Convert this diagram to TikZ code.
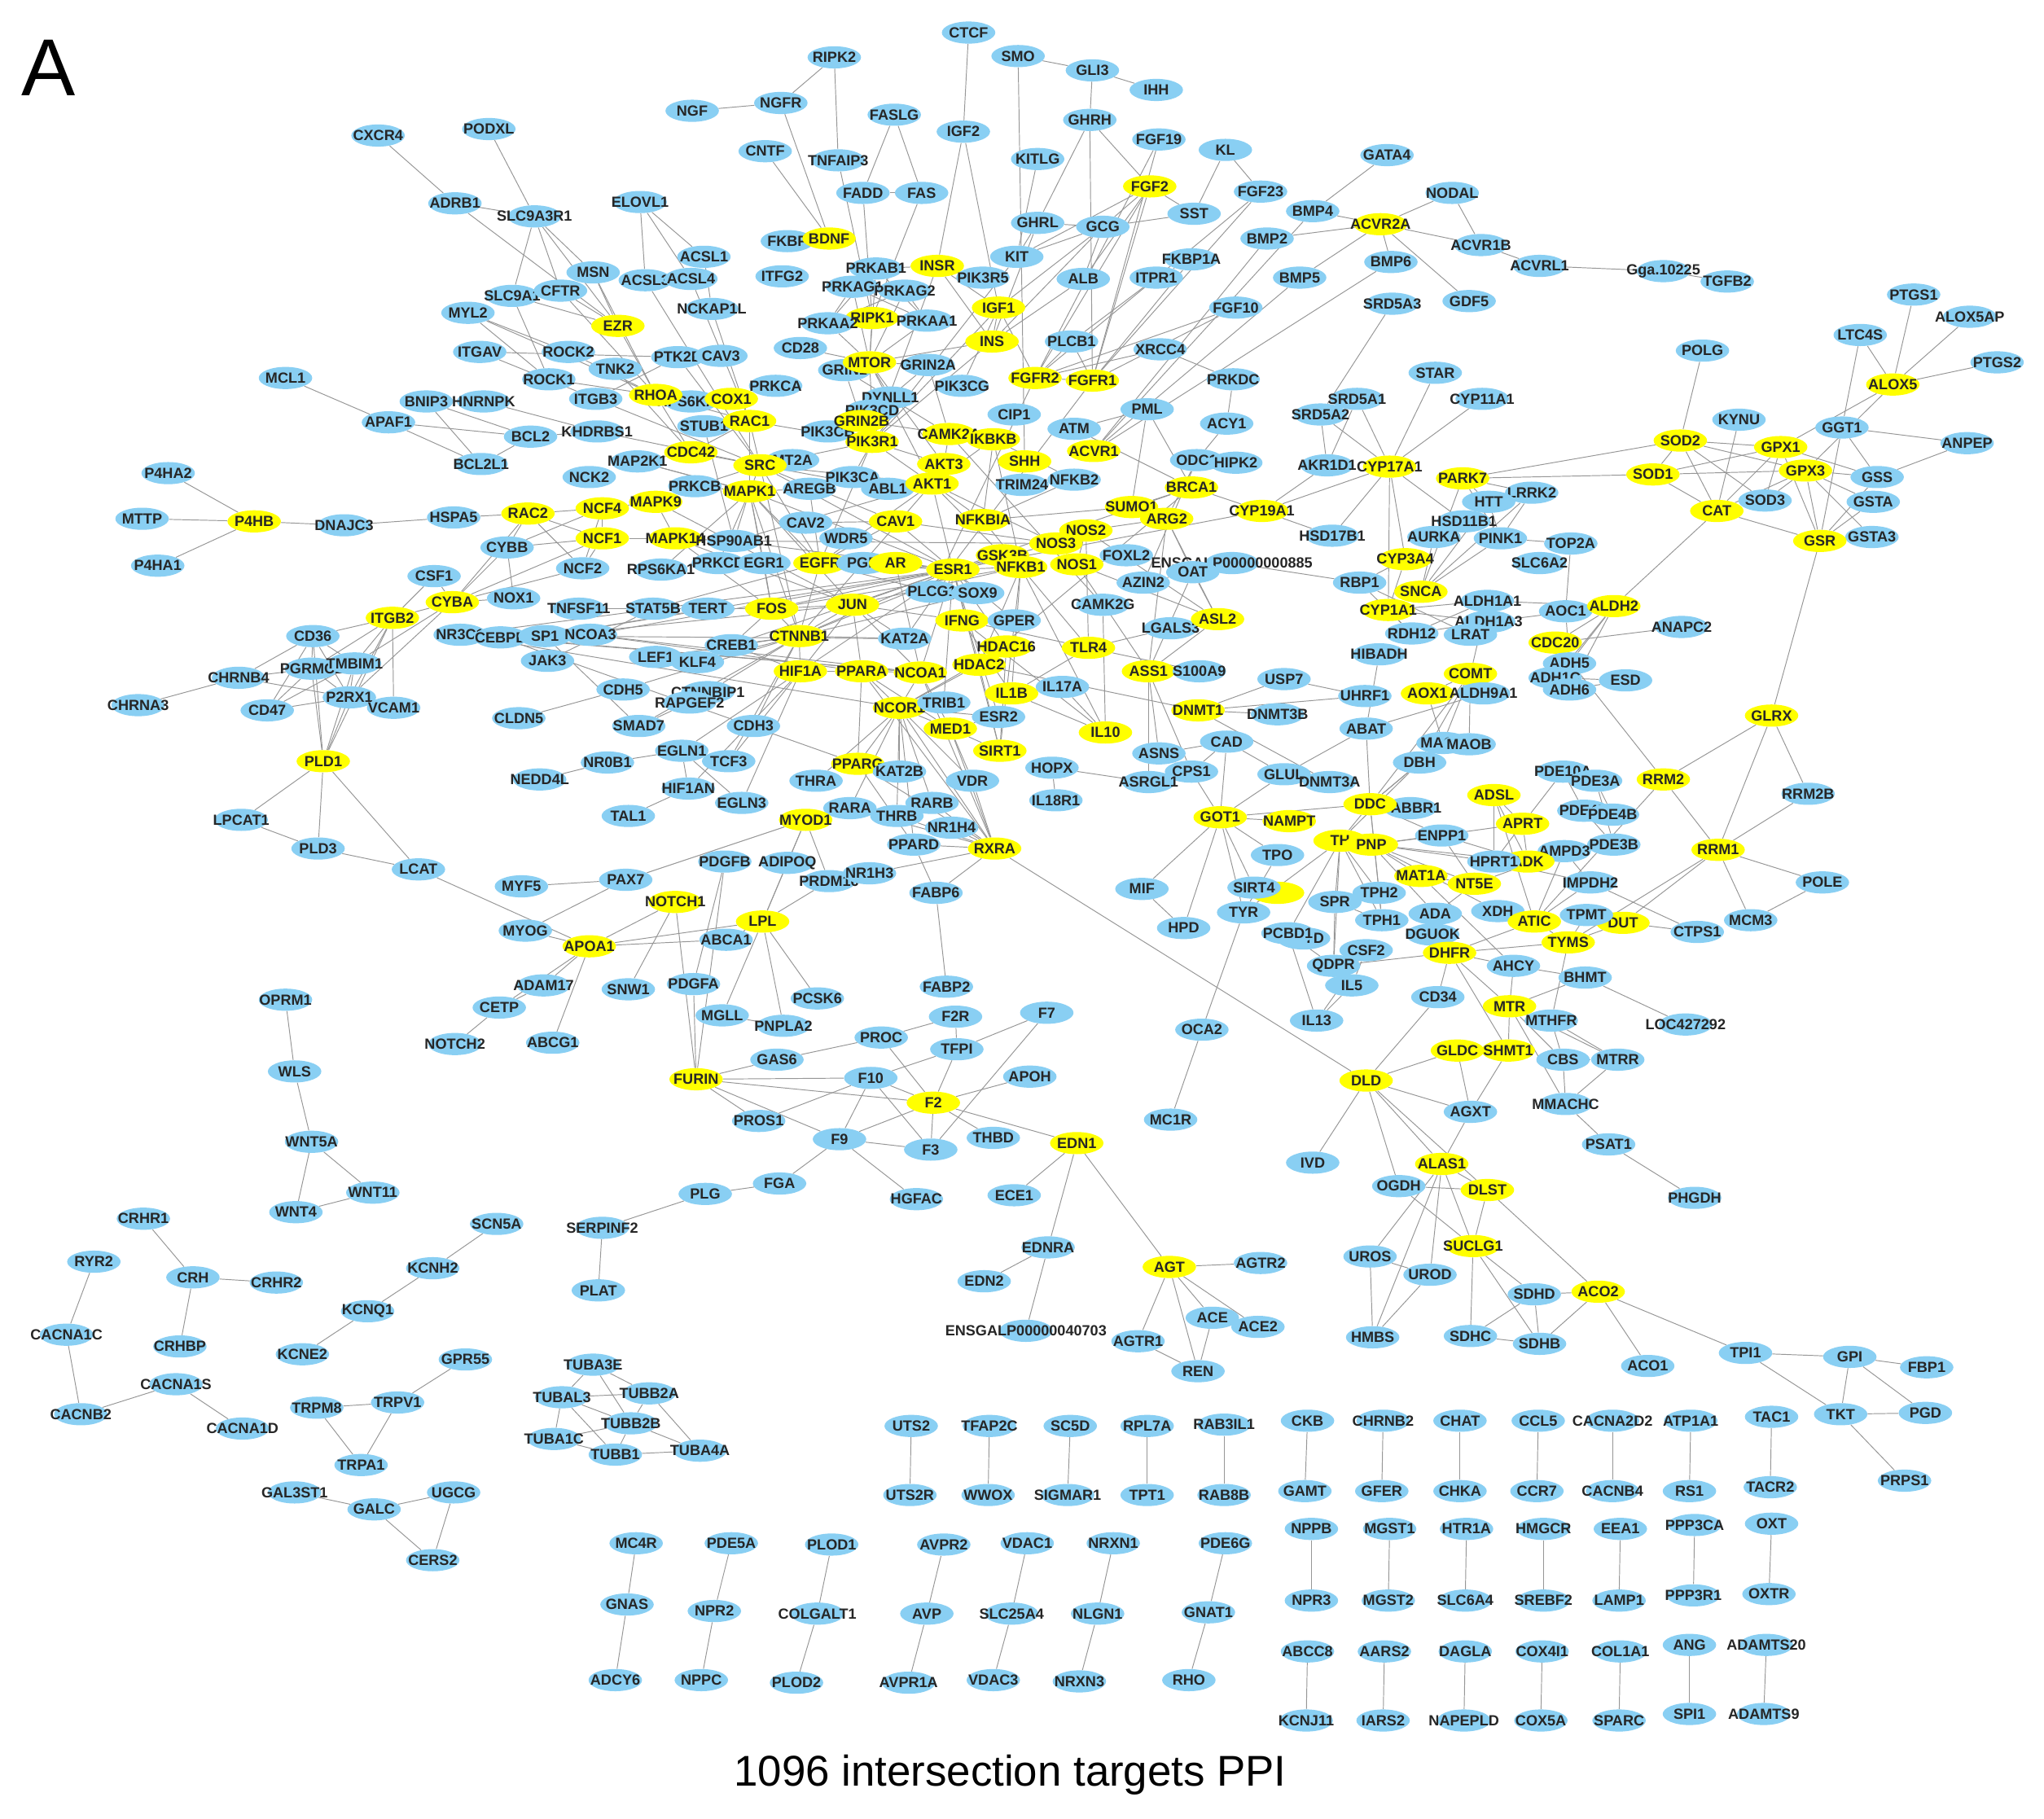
\documentclass[tikz,border=0pt]{standalone}
\usepackage{fontspec}
\setmainfont{Liberation Sans}
\usetikzlibrary{shapes.geometric}
\definecolor{nblue}{RGB}{137,207,243}
\definecolor{nyel}{RGB}{255,255,0}
\definecolor{egray}{RGB}{150,150,150}
\pgfdeclarelayer{bg}
\pgfdeclarelayer{edges}
\pgfsetlayers{bg,edges,main}
\tikzset{
  bn/.style={ellipse, fill=nblue, minimum width=41pt, minimum height=17pt, inner sep=0pt,
             font=\fontsize{11.3}{12}\selectfont\bfseries, text=black!85},
  yn/.style={bn, fill=nyel},
  edge/.style={draw=egray, line width=0.6pt}
}
\newcommand{\B}[3]{\node[bn] (#1) at (#2,-#3) {\makebox[0pt]{#1}};}
\newcommand{\Y}[3]{\node[yn] (#1) at (#2,-#3) {\makebox[0pt]{#1}};}
\newcommand{\BL}[4]{\node[bn] (#1) at (#2,-#3) {\makebox[0pt]{#4}};}
\newcommand{\YL}[4]{\node[yn] (#1) at (#2,-#3) {\makebox[0pt]{#4}};}
\newcommand{\E}[2]{\foreach \x in {#2}{\draw[edge] (#1) -- (\x);}}
\begin{document}
\begin{tikzpicture}[x=1pt,y=1pt]
\useasboundingbox (0,0) rectangle (1568,-1395);
\begin{pgfonlayer}{bg}
\fill[white] (0,0) rectangle (1568,-1395);
\end{pgfonlayer}
\node[font=\fontsize{62}{64}\selectfont] (lblA) at (37,-52) {A};
\node[font=\fontsize{33}{35}\selectfont] (title) at (775,-1362) {1096 intersection targets PPI};
% ---------------- nodes ----------------
\B{CTCF}{743}{25}
\B{RIPK2}{640}{44}
\B{SMO}{781}{43}
\B{GLI3}{838}{54}
\B{IHH}{887}{69}
\B{NGF}{531}{85}
\B{NGFR}{599}{79}
\B{FASLG}{686}{88}
\B{IGF2}{739}{101}
\B{GHRH}{836}{92}
\B{FGF19}{889}{107}
\B{KL}{940}{115}
\B{CXCR4}{290}{104}
\B{PODXL}{375}{99}
\B{CNTF}{587}{116}
\B{TNFAIP3}{643}{123}
\B{KITLG}{796}{122}
\Y{FGF2}{882}{143}
\B{SST}{916}{164}
\B{FGF23}{967}{147}
\B{GATA4}{1064}{119}
\B{NODAL}{1114}{148}
\B{BMP4}{1007}{162}
\Y{ACVR2A}{1059}{172}
\B{ACVR1B}{1136}{188}
\B{ACVRL1}{1181}{204}
\BL{Gga}{1276}{208}{Gga.10225}
\B{TGFB2}{1325}{216}
\B{ADRB1}{349}{156}
\B{SLC9A3R1}{410}{166}
\B{ELOVL1}{491}{155}
\B{FADD}{662}{148}
\B{FAS}{707}{148}
\B{GHRL}{796}{171}
\B{GCG}{846}{174}
\B{BMP2}{972}{183}
\B{FKBP}{604}{185}
\Y{BDNF}{636}{183}
\B{ACSL1}{540}{197}
\B{KIT}{780}{197}
\B{BMP6}{1067}{201}
\B{PRKAB1}{672}{206}
\Y{INSR}{719}{204}
\B{PIK3R5}{754}{213}
\B{ITFG2}{600}{212}
\B{MSN}{455}{209}
\B{FKBP1A}{914}{199}
\B{ITPR1}{887}{213}
\B{BMP5}{997}{213}
\B{ALB}{831}{214}
\B{SLC9A1}{393}{227}
\B{CFTR}{430}{223}
\B{ACSL3}{495}{215}
\B{ACSL4}{530}{214}
\B{PRKAG1}{654}{220}
\B{PRKAG2}{694}{223}
\B{NCKAP1L}{546}{237}
\B{GDF5}{1127}{231}
\B{SRD5A3}{1068}{233}
\B{FGF10}{948}{236}
\Y{IGF1}{766}{236}
\B{MYL2}{359}{240}
\Y{EZR}{474}{250}
\Y{RIPK1}{669}{244}
\B{PRKAA2}{635}{248}
\B{PRKAA1}{711}{246}
\Y{INS}{761}{262}
\B{ITGAV}{368}{270}
\B{ROCK2}{436}{270}
\B{CD28}{614}{267}
\B{PTK2B}{520}{274}
\B{CAV3}{553}{273}
\B{TNK2}{472}{283}
\B{GRIN1}{648}{284}
\Y{MTOR}{667}{278}
\B{GRIN2A}{712}{280}
\B{PLCB1}{822}{262}
\B{XRCC4}{890}{268}
\B{MCL1}{219}{290}
\B{ROCK1}{421}{291}
\Y{FGFR2}{794}{290}
\Y{FGFR1}{838}{292}
\B{PRKDC}{946}{291}
\B{ITGB3}{457}{306}
\B{RPS6KA3}{530}{308}
\Y{RHOA}{503}{303}
\Y{COX1}{561}{306}
\B{PRKCA}{595}{296}
\B{PIK3CG}{738}{296}
\B{DYNLL1}{683}{305}
\B{CIP1}{778}{318}
\B{BNIP3}{327}{308}
\B{HNRNPK}{371}{308}
\B{APAF1}{298}{324}
\B{KHDRBS1}{458}{331}
\B{BCL2}{407}{335}
\B{STUB1}{540}{327}
\Y{RAC1}{575}{323}
\B{PIK3CD}{669}{315}
\B{PIK3CB}{635}{331}
\Y{GRIN2B}{661}{323}
\Y{PIK3R1}{669}{339}
\Y{CAMK2A}{728}{333}
\Y{IKBKB}{762}{337}
\B{ATM}{824}{329}
\B{PML}{880}{314}
\B{ACY1}{941}{325}
\B{SRD5A2}{1013}{318}
\B{SRD5A1}{1041}{306}
\B{STAR}{1101}{286}
\B{CYP11A1}{1137}{306}
\B{POLG}{1306}{269}
\B{PTGS1}{1468}{226}
\B{ALOX5AP}{1511}{243}
\B{LTC4S}{1427}{257}
\B{PTGS2}{1532}{278}
\Y{ALOX5}{1452}{295}
\B{KYNU}{1334}{322}
\B{GGT1}{1413}{328}
\B{ANPEP}{1509}{340}
\Y{SOD2}{1289}{338}
\Y{GPX1}{1366}{343}
\B{SOD3}{1354}{384}
\Y{GPX3}{1385}{361}
\Y{SOD1}{1268}{364}
\B{GSS}{1440}{366}
\B{GSTA}{1437}{385}
\Y{CAT}{1317}{392}
\B{GSTA3}{1436}{412}
\Y{GSR}{1396}{415}
\B{MAP2K1}{489}{354}
\Y{CDC42}{530}{347}
\B{MT2A}{608}{353}
\Y{SRC}{583}{357}
\B{BCL2L1}{369}{356}
\B{NCK2}{452}{366}
\B{PRKCB}{533}{373}
\B{AREGB}{621}{375}
\Y{MAPK1}{575}{377}
\B{PIK3CA}{654}{366}
\B{ABL1}{681}{375}
\Y{AKT3}{724}{356}
\Y{AKT1}{715}{371}
\Y{SHH}{786}{354}
\B{TRIM24}{784}{372}
\B{NFKB2}{824}{368}
\Y{ACVR1}{839}{346}
\B{ODC1}{918}{353}
\B{HIPK2}{948}{355}
\B{AKR1D1}{1018}{357}
\Y{CYP17A1}{1066}{358}
\Y{PARK7}{1122}{367}
\B{LRRK2}{1175}{378}
\B{HTT}{1142}{385}
\B{P4HA2}{129}{363}
\B{MTTP}{109}{398}
\Y{P4HB}{195}{400}
\B{DNAJC3}{264}{403}
\B{HSPA5}{348}{397}
\Y{RAC2}{405}{394}
\Y{NCF4}{462}{390}
\Y{MAPK9}{503}{385}
\Y{BRCA1}{914}{374}
\Y{SUMO1}{868}{389}
\Y{ARG2}{895}{398}
\Y{CYP19A1}{968}{392}
\B{HSD11B1}{1123}{400}
\B{CAV2}{618}{401}
\Y{CAV1}{687}{400}
\Y{NFKBIA}{754}{399}
\B{WDR5}{649}{413}
\Y{NOS2}{833}{407}
\Y{NOS3}{810}{417}
\B{AURKA}{1100}{412}
\B{PINK1}{1151}{413}
\B{HSD17B1}{1022}{411}
\B{TOP2A}{1205}{417}
\B{P4HA1}{121}{434}
\B{CYBB}{389}{420}
\Y{NCF1}{462}{413}
\Y{MAPK14}{518}{413}
\B{HSP90AB1}{563}{415}
\B{FOXL2}{864}{426}
\Y{GSK3B}{769}{426}
\Y{NFKB1}{783}{435}
\Y{NOS1}{826}{433}
\Y{CYP3A4}{1078}{429}
\BL{ENSa}{945}{432}{ENSGALP00000000885}
\B{OAT}{915}{439}
\B{SLC6A2}{1181}{432}
\B{PRKCD}{551}{432}
\B{EGR1}{586}{432}
\Y{EGFR}{629}{432}
\B{PGR}{662}{432}
\Y{AR}{687}{432}
\Y{ESR1}{731}{437}
\B{NCF2}{447}{436}
\B{RPS6KA1}{507}{437}
\B{CSF1}{333}{442}
\B{NOX1}{394}{459}
\B{AZIN2}{877}{447}
\B{RBP1}{1043}{447}
\B{CAMK2G}{846}{464}
\Y{SNCA}{1090}{454}
\B{ALDH1A1}{1141}{461}
\B{AOC1}{1201}{469}
\Y{ALDH2}{1238}{465}
\B{PLCG1}{715}{454}
\B{SOX9}{750}{455}
\Y{FOS}{592}{467}
\Y{JUN}{654}{464}
\B{TNFSF11}{444}{467}
\B{STAT5B}{501}{467}
\B{TERT}{543}{467}
\Y{CYBA}{347}{462}
\Y{ITGB2}{301}{474}
\Y{IFNG}{738}{476}
\B{GPER}{778}{476}
\Y{CYP1A1}{1065}{468}
\B{LGALS3}{898}{482}
\Y{ASL2}{934}{475}
\B{ALDH1A3}{1142}{477}
\Y{CDC20}{1193}{493}
\B{ANAPC2}{1290}{481}
\B{NR3C1}{353}{487}
\B{CEBPB}{384}{489}
\B{SP1}{418}{488}
\B{NCOA3}{453}{487}
\Y{CTNNB1}{613}{488}
\B{KAT2A}{694}{490}
\B{CREB1}{561}{495}
\Y{HDAC16}{772}{496}
\Y{TLR4}{835}{497}
\Y{HDAC2}{751}{510}
\B{RDH12}{1083}{486}
\B{LRAT}{1128}{487}
\B{CD36}{240}{488}
\B{PGRMC1}{239}{513}
\B{TMBIM1}{272}{509}
\B{CHRNB4}{183}{520}
\B{JAK3}{420}{507}
\B{LEF1}{503}{504}
\B{KLF4}{535}{508}
\Y{HIF1A}{614}{515}
\Y{PPARA}{661}{515}
\Y{NCOA1}{706}{516}
\Y{ASS1}{881}{515}
\B{S100A9}{920}{515}
\B{HIBADH}{1058}{502}
\B{ADH5}{1204}{509}
\Y{COMT}{1128}{517}
\B{ADH1C}{1193}{520}
\B{ESD}{1247}{522}
\B{ADH6}{1204}{529}
\B{USP7}{985}{521}
\Y{IL1B}{776}{532}
\B{IL17A}{815}{527}
\Y{AOX1}{1095}{532}
\B{ALDH9A1}{1138}{532}
\B{UHRF1}{1047}{534}
\B{P2RX1}{268}{535}
\B{VCAM1}{302}{543}
\B{CHRNA3}{106}{541}
\B{CD47}{205}{545}
\B{CDH5}{478}{529}
\B{CTNNBIP1}{543}{531}
\B{RAPGEF2}{529}{539}
\Y{NCOR1}{690}{543}
\B{TRIB1}{724}{539}
\Y{DNMT1}{919}{545}
\B{DNMT3B}{980}{548}
\B{ESR2}{766}{550}
\B{CLDN5}{398}{551}
\B{SMAD7}{490}{557}
\B{CDH3}{578}{557}
\Y{MED1}{729}{559}
\B{ABAT}{1048}{559}
\Y{IL10}{848}{562}
\Y{GLRX}{1359}{549}
\B{CAD}{941}{569}
\B{MAOA}{1107}{570}
\B{MAOB}{1127}{571}
\B{ASNS}{889}{578}
\Y{SIRT1}{767}{576}
\B{DBH}{1089}{585}
\B{EGLN1}{523}{576}
\B{TCF3}{559}{584}
\B{NR0B1}{466}{585}
\B{HOPX}{807}{589}
\B{CPS1}{914}{592}
\B{ASRGL1}{881}{600}
\B{GLUL}{985}{594}
\B{DNMT3A}{1020}{600}
\Y{PPARG}{658}{586}
\B{KAT2B}{690}{592}
\B{THRA}{626}{599}
\B{VDR}{746}{599}
\B{PDE10A}{1199}{592}
\B{PDE3A}{1224}{599}
\Y{RRM2}{1276}{598}
\B{RRM2B}{1387}{609}
\Y{ADSL}{1146}{610}
\B{GABBR1}{1082}{620}
\Y{DDC}{1051}{617}
\B{NEDD4L}{414}{598}
\B{HIF1AN}{528}{605}
\B{EGLN3}{569}{616}
\B{IL18R1}{810}{614}
\B{PDE4D}{1215}{622}
\B{PDE4B}{1237}{625}
\B{TAL1}{482}{626}
\B{RARA}{652}{620}
\B{RARB}{715}{616}
\B{THRB}{688}{626}
\Y{MYOD1}{618}{629}
\Y{GOT1}{936}{627}
\Y{NAMPT}{989}{630}
\Y{APRT}{1168}{632}
\B{NR1H4}{730}{635}
\B{ENPP1}{1106}{641}
\Y{TH}{1028}{645}
\Y{PNP}{1052}{648}
\B{PDE3B}{1238}{648}
\B{AMPD3}{1200}{653}
\B{PPARD}{701}{648}
\Y{RXRA}{763}{651}
\B{TPO}{980}{656}
\Y{ADK}{1172}{661}
\B{HPRT1}{1146}{661}
\Y{MAT1A}{1090}{672}
\Y{NT5E}{1131}{678}
\B{IMPDH2}{1220}{677}
\Y{RRM1}{1318}{652}
\B{POLE}{1398}{677}
\B{PDGFB}{556}{661}
\B{ADIPOQ}{604}{662}
\B{PRDM16}{636}{676}
\B{NR1H3}{667}{670}
\B{PAX7}{480}{675}
\B{MYF5}{400}{680}
\B{MIF}{876}{682}
\YL{SLCh}{980}{685}{}
\B{SIRT4}{962}{681}
\B{TPH2}{1058}{685}
\B{SPR}{1024}{692}
\B{ADA}{1101}{701}
\B{XDH}{1149}{699}
\Y{ATIC}{1177}{707}
\Y{DUT}{1245}{708}
\B{TPMT}{1217}{702}
\B{CTPS1}{1302}{715}
\B{MCM3}{1343}{706}
\B{TYR}{954}{700}
\B{DPYD}{1000}{720}
\B{PCBD1}{988}{716}
\B{TPH1}{1060}{706}
\B{DGUOK}{1099}{717}
\Y{TYMS}{1203}{723}
\B{HPD}{908}{712}
\B{MYOG}{403}{714}
\Y{NOTCH1}{518}{692}
\Y{LPL}{585}{707}
\B{FABP6}{718}{685}
\Y{APOA1}{452}{726}
\B{ABCA1}{557}{721}
\B{CSF2}{1048}{729}
\B{QDPR}{1023}{741}
\Y{DHFR}{1112}{731}
\B{AHCY}{1161}{741}
\B{BHMT}{1216}{750}
\B{IL5}{1037}{756}
\B{CD34}{1103}{765}
\Y{MTR}{1158}{772}
\B{MTHFR}{1190}{783}
\BL{LOC}{1293}{786}{LOC427292}
\B{ADAM17}{417}{756}
\B{SNW1}{482}{759}
\B{PDGFA}{532}{755}
\B{CETP}{383}{773}
\B{PCSK6}{627}{766}
\B{FABP2}{726}{757}
\B{MGLL}{554}{779}
\B{PNPLA2}{601}{787}
\B{IL13}{1010}{783}
\B{OCA2}{922}{790}
\B{F2R}{733}{780}
\B{F7}{803}{777}
\B{OPRM1}{219}{767}
\B{NOTCH2}{349}{801}
\B{ABCG1}{424}{800}
\B{PROC}{676}{796}
\B{TFPI}{734}{805}
\Y{GLDC}{1118}{806}
\Y{SHMT1}{1157}{806}
\B{CBS}{1199}{813}
\B{MTRR}{1241}{813}
\B{GAS6}{596}{813}
\B{WLS}{226}{822}
\B{APOH}{790}{826}
\B{F10}{668}{827}
\Y{FURIN}{534}{828}
\Y{DLD}{1048}{829}
\B{MMACHC}{1201}{847}
\Y{F2}{716}{846}
\B{AGXT}{1128}{853}
\B{PROS1}{582}{860}
\B{MC1R}{898}{859}
\B{F9}{644}{874}
\B{THBD}{762}{873}
\B{F3}{714}{882}
\Y{EDN1}{826}{877}
\B{WNT5A}{239}{876}
\B{PSAT1}{1234}{878}
\B{IVD}{1007}{892}
\Y{ALAS1}{1106}{893}
\B{WNT11}{286}{915}
\B{FGA}{598}{908}
\B{OGDH}{1073}{910}
\Y{DLST}{1141}{913}
\B{PLG}{541}{916}
\B{HGFAC}{703}{920}
\B{ECE1}{778}{917}
\B{PHGDH}{1300}{919}
\B{WNT4}{227}{930}
\B{CRHR1}{110}{935}
\B{SCN5A}{381}{939}
\B{SERPINF2}{462}{942}
\Y{SUCLG1}{1130}{956}
\B{EDNRA}{804}{957}
\B{RYR2}{72}{968}
\B{UROS}{1051}{964}
\B{KCNH2}{332}{973}
\Y{AGT}{897}{972}
\B{AGTR2}{967}{969}
\B{CRH}{148}{980}
\B{UROD}{1097}{978}
\B{CRHR2}{212}{984}
\B{EDN2}{755}{983}
\B{PLAT}{459}{990}
\Y{ACO2}{1226}{991}
\B{SDHD}{1177}{993}
\B{KCNQ1}{282}{1006}
\B{ACE}{930}{1011}
\B{ACE2}{965}{1018}
\BL{ENSb}{787}{1021}{ENSGALP00000040703}
\B{CACNA1C}{51}{1024}
\B{AGTR1}{873}{1029}
\B{HMBS}{1053}{1026}
\B{SDHC}{1128}{1025}
\B{SDHB}{1181}{1031}
\B{CRHBP}{138}{1033}
\B{KCNE2}{232}{1039}
\B{TPI1}{1339}{1038}
\B{GPI}{1419}{1041}
\B{FBP1}{1478}{1049}
\B{ACO1}{1264}{1048}
\B{REN}{919}{1052}
\B{GPR55}{357}{1043}
\B{TUBA3E}{455}{1047}
\B{CACNA1S}{135}{1062}
\B{TUBB2A}{498}{1069}
\B{TUBAL3}{431}{1072}
\B{TRPM8}{243}{1080}
\B{TRPV1}{305}{1076}
\B{CACNB2}{62}{1085}
\B{TKT}{1412}{1085}
\B{PGD}{1477}{1084}
\B{TUBB2B}{484}{1092}
\B{CACNA1D}{186}{1096}
\B{TUBA1C}{425}{1104}
\B{TUBA4A}{537}{1113}
\B{TUBB1}{472}{1116}
\B{TRPA1}{277}{1124}
\B{PRPS1}{1461}{1136}
\Y{PLD1}{248}{584}
\B{LPCAT1}{185}{629}
\B{PLD3}{244}{651}
\B{LCAT}{321}{667}
\B{UTS2}{699}{1094} \B{UTS2R}{698}{1147}
\B{TFAP2C}{759}{1094} \B{WWOX}{758}{1147}
\B{SC5D}{821}{1094} \B{SIGMAR1}{819}{1147}
\B{RPL7A}{880}{1094} \B{TPT1}{880}{1147}
\B{RAB3IL1}{939}{1093} \B{RAB8B}{939}{1147}
\B{CKB}{1003}{1090} \B{GAMT}{1001}{1144}
\B{CHRNB2}{1061}{1090} \B{GFER}{1060}{1144}
\B{CHAT}{1120}{1090} \B{CHKA}{1120}{1144}
\B{CCL5}{1180}{1090} \B{CCR7}{1179}{1144}
\B{CACNA2D2}{1237}{1090} \B{CACNB4}{1237}{1144}
\B{ATP1A1}{1297}{1090} \B{RS1}{1296}{1144}
\B{TAC1}{1359}{1087} \B{TACR2}{1358}{1141}
\B{GAL3ST1}{226}{1145} \B{GALC}{287}{1158} \B{UGCG}{348}{1145} \B{CERS2}{332}{1197}
\B{MC4R}{488}{1184} \B{GNAS}{481}{1231} \B{ADCY6}{472}{1289}
\B{PDE5A}{561}{1184} \B{NPR2}{548}{1236} \B{NPPC}{538}{1289}
\B{PLOD1}{638}{1185} \B{COLGALT1}{627}{1238} \B{PLOD2}{611}{1291}
\B{AVPR2}{724}{1185} \B{AVP}{711}{1238} \B{AVPR1A}{697}{1291}
\B{VDAC1}{788}{1184} \B{SLC25A4}{776}{1238} \B{VDAC3}{762}{1289}
\B{NRXN1}{854}{1184} \B{NLGN1}{842}{1238} \B{NRXN3}{828}{1290}
\B{PDE6G}{940}{1184} \B{GNAT1}{927}{1237} \B{RHO}{912}{1289}
\B{NPPB}{1006}{1173} \B{NPR3}{1006}{1228}
\B{MGST1}{1066}{1173} \B{MGST2}{1065}{1228}
\B{HTR1A}{1125}{1173} \B{SLC6A4}{1124}{1228}
\B{HMGCR}{1184}{1173} \B{SREBF2}{1184}{1228}
\B{EEA1}{1243}{1173} \B{LAMP1}{1242}{1228}
\B{PPP3CA}{1300}{1170} \B{PPP3R1}{1299}{1224}
\B{OXT}{1359}{1169} \B{OXTR}{1357}{1223}
\B{ABCC8}{1003}{1267} \B{KCNJ11}{1002}{1320}
\B{AARS2}{1062}{1267} \B{IARS2}{1061}{1320}
\B{DAGLA}{1124}{1267} \B{NAPEPLD}{1123}{1320}
\B{COX4I1}{1183}{1267} \B{COX5A}{1182}{1320}
\B{COL1A1}{1243}{1267} \B{SPARC}{1242}{1320}
\B{ANG}{1296}{1262} \B{SPI1}{1296}{1315}
\B{ADAMTS20}{1355}{1262} \B{ADAMTS9}{1353}{1315}
% ---------------- edges ----------------
\begin{pgfonlayer}{edges}
\E{CXCR4}{ADRB1}
\E{ADRB1}{SLC9A3R1,EZR}
\E{PODXL}{SLC9A3R1}
\E{SLC9A3R1}{MSN,CFTR,EZR,SLC9A1}
\E{SLC9A1}{EZR,ROCK1,CFTR}
\E{CFTR}{EZR,RHOA}
\E{MSN}{EZR,RHOA}
\E{MYL2}{ROCK1,ROCK2,RHOA}
\E{ITGAV}{ITGB3,PTK2B}
\E{ROCK2}{RHOA}
\E{ROCK1}{RHOA}
\E{TNK2}{CDC42}
\E{ITGB3}{PTK2B,SRC}
\E{ELOVL1}{ACSL1,ACSL3,ACSL4}
\E{ACSL1}{NCKAP1L}
\E{NCKAP1L}{RAC1}
\E{ACSL3}{SRC}
\E{ACSL4}{RAC1}
\E{NGF}{NGFR}
\E{NGFR}{RIPK2,BDNF}
\E{CNTF}{BDNF}
\E{RIPK2}{TNFAIP3}
\E{TNFAIP3}{RIPK1}
\E{FASLG}{FADD,FAS}
\E{FADD}{FAS,RIPK1}
\E{FAS}{RIPK1}
\E{CTCF}{IGF2}
\E{IGF2}{INSR,IGF1}
\E{SMO}{GLI3,SHH}
\E{GLI3}{IHH,GHRH}
\E{GHRH}{FGF2,GHRL,FGFR1}
\E{KITLG}{KIT}
\E{FGF19}{FGFR1,FGFR2}
\E{KL}{FGF23,SST}
\E{FGF23}{FGFR1,FGFR2}
\E{FGF2}{SST,FGFR1,FGFR2,GCG,KIT,ALB}
\E{SST}{GCG}
\E{GCG}{GHRL,KIT,ALB,INS,IGF1}
\E{GHRL}{INS,KIT}
\E{KIT}{PIK3R1}
\E{GATA4}{BMP4}
\E{BMP4}{ACVR2A,ACVR1}
\E{NODAL}{ACVR2A,ACVR1B}
\E{ACVR2A}{ACVR1B,BMP2,BMP6,GDF5,BMP5}
\E{BMP2}{ACVR1}
\E{BMP5}{ACVR1}
\E{BMP6}{ACVR1}
\E{ACVR1B}{ACVRL1}
\E{ACVRL1}{Gga}
\E{Gga}{TGFB2}
\E{FGF10}{FGFR1,FGFR2}
\E{FKBP1A}{ITPR1,FGFR1}
\E{ITPR1}{PLCB1}
\E{XRCC4}{PRKDC,FGFR2}
\E{PRKDC}{ACY1}
\E{SRD5A3}{SRD5A2}
\E{STAR}{CYP17A1}
\E{CYP11A1}{CYP17A1}
\E{SRD5A1}{AKR1D1,CYP17A1}
\E{SRD5A2}{AKR1D1,CYP17A1}
\E{POLG}{SOD2}
\E{ALOX5}{PTGS1,ALOX5AP,LTC4S,PTGS2,GPX1,GPX3}
\E{LTC4S}{GGT1}
\E{KYNU}{CAT}
\E{SOD2}{GPX1,GPX3,SOD1,CAT,SOD3,PARK7}
\E{SOD1}{GPX1,GPX3,CAT,PARK7}
\E{GPX1}{CAT,GSR,GSS,SOD3}
\E{GPX3}{GSR,GSS,GSTA,GSTA3,CAT,SOD3}
\E{GGT1}{GSS,GSR,ANPEP}
\E{GSS}{ANPEP,GSR}
\E{GSTA}{GSR}
\E{GSTA3}{GSR}
\E{CAT}{GSR,ALDH2}
\E{GSR}{GLRX}
\E{GLRX}{RRM2,RRM2B,RRM1}
\E{RRM2B}{RRM1}
\E{RRM2}{RRM1,CDC20,ATIC}
\E{RRM1}{POLE,MCM3,TYMS,DUT}
\E{MCM3}{POLE}
\E{CTPS1}{DUT,IMPDH2}
\E{ALDH2}{AOC1,CDC20,ALDH1A1}
\E{ANAPC2}{CDC20}
\E{ESD}{ADH1C,ADH6}
\E{TOP2A}{AOC1,PINK1}
\E{MCL1}{APAF1}
\E{BNIP3}{BCL2,BCL2L1}
\E{HNRNPK}{KHDRBS1}
\E{APAF1}{BCL2,BCL2L1}
\E{BCL2}{BCL2L1,KHDRBS1}
\E{P4HB}{P4HA2,MTTP,P4HA1,DNAJC3}
\E{DNAJC3}{HSPA5}
\E{HSPA5}{RAC2}
\E{RAC2}{NCF4,NCF1,CYBB,NCF2,CYBA}
\E{NCF4}{NCF1,NCF2,CYBB,MAPK9}
\E{NCF1}{NCF2,CYBA,CYBB,MAPK14}
\E{NCF2}{CYBA}
\E{CYBB}{CYBA,NOX1}
\E{NOX1}{CYBA}
\E{CSF1}{ITGB2,CYBA}
\E{ITGB2}{CYBA,CD36,TMBIM1,P2RX1,VCAM1,PGRMC1,PLD1}
\E{CYBA}{P2RX1,TMBIM1}
\E{CD36}{CHRNB4,TMBIM1,PGRMC1,CD47,P2RX1,PLD1}
\E{CHRNB4}{CHRNA3,PGRMC1,P2RX1}
\E{CD47}{PGRMC1,TMBIM1,P2RX1}
\E{PGRMC1}{PLD1,P2RX1}
\E{P2RX1}{PLD1}
\E{TMBIM1}{PLD1,P2RX1}
\E{PLD1}{LPCAT1,PLD3,LCAT}
\E{LPCAT1}{PLD3}
\E{PLD3}{LCAT}
\E{LCAT}{APOA1}
\E{NCOA3}{ESR1,PPARA,NCOA1}
\E{SP1}{ESR1,JUN,KAT2A}
\E{CEBPB}{PPARG,NCOA1}
\E{NR3C1}{NCOA1,NCOR1,ESR1}
\E{EZR}{RHOA}
\E{RHOA}{RAC1,CDC42}
\E{RAC1}{CDC42,STUB1,PIK3R1,SRC,MAPK1}
\E{CDC42}{SRC,MAP2K1}
\E{SRC}{EGFR,CTNNB1,AKT1,PIK3R1,MAPK1,CAV1,ESR1,PRKCB,MT2A,ABL1,PTK2B}
\E{MAPK1}{EGFR,FOS,JUN,MAP2K1,ESR1,HSP90AB1,RPS6KA1,PRKCD,EGR1,AREGB,CTNNB1}
\E{MAPK9}{JUN,MAPK14}
\E{MAPK14}{HSP90AB1,JUN,FOS}
\E{AKT1}{MTOR,PIK3R1,AKT3,GSK3B,NFKBIA,ESR1,CTNNB1,EGFR,PIK3CA,ABL1,IKBKB}
\E{AKT3}{MTOR,PIK3R1,CAMK2A}
\E{PIK3R1}{PIK3CA,PIK3CB,PIK3CD,INSR,EGFR,IGF1,INS,GRIN2B}
\E{INSR}{INS,IGF1,PIK3R5,PRKAB1}
\E{INS}{IGF1,MTOR,ALB}
\E{IGF1}{PIK3CG,FGFR2}
\E{MTOR}{PRKAA1,PRKAA2,PRKAB1,PRKAG1,PRKAG2,RIPK1,DYNLL1,GRIN1,GRIN2A,CD28,PIK3CD}
\E{PRKAA1}{PRKAG1,PRKAG2,PRKAB1}
\E{PRKAA2}{PRKAG1,PRKAG2,PRKAB1}
\E{GRIN2B}{GRIN1,GRIN2A,CAMK2A}
\E{CAMK2A}{GRIN1,GRIN2A,CAMK2G}
\E{IKBKB}{NFKBIA,NFKB1,NFKB2}
\E{NFKBIA}{NFKB1,NFKB2}
\E{FGFR1}{FGFR2,PLCB1,PLCG1}
\E{FGFR2}{PLCG1,PLCB1}
\E{ATM}{PML,BRCA1}
\E{PML}{SUMO1,BRCA1}
\E{BRCA1}{SUMO1,ESR1,CYP19A1,HDAC2}
\E{SUMO1}{NFKBIA}
\E{ARG2}{NOS2,OAT,ASL2,ODC1}
\E{ODC1}{AZIN2,ACY1}
\E{NOS2}{NOS3,NOS1,ASL2,TLR4}
\E{NOS3}{NOS1,CAV1,AKT1,ESR1,HSP90AB1}
\E{NOS1}{ASS1,ASL2}
\E{ASS1}{ASL2,CPS1,ASNS,OAT,ARG2,ASRGL1}
\E{OAT}{ASL2,AZIN2}
\E{CYP19A1}{AKR1D1,HSD17B1,CYP17A1,ESR1}
\E{CYP17A1}{HSD11B1,CYP3A4,CYP1A1,HSD17B1}
\E{CYP3A4}{CYP1A1,RBP1}
\E{CYP1A1}{ALDH1A1,ALDH1A3,RDH12}
\E{SNCA}{PARK7,PINK1,LRRK2,HTT,AURKA}
\E{PARK7}{HTT,PINK1,LRRK2}
\E{HTT}{PINK1}
\E{LRRK2}{PINK1}
\E{RBP1}{LRAT,RDH12,ENSa}
\E{ALDH1A1}{ALDH1A3,RDH12,LRAT,COMT}
\E{ALDH1A3}{RDH12,LRAT,ALDH2}
\E{HIBADH}{ABAT}
\E{COMT}{MAOA,MAOB,DDC,AOX1,DBH}
\E{AOX1}{ALDH9A1,MAOA}
\E{ALDH9A1}{ABAT}
\E{ADH5}{ALDH2,AOC1}
\E{ADH1C}{ALDH2}
\E{ADH6}{ALDH2}
\E{UHRF1}{DNMT1,USP7}
\E{DNMT1}{USP7,DNMT3B,DNMT3A,HDAC2}
\E{ABAT}{GLUL,DDC}
\E{GLUL}{GOT1,CAD}
\E{CAD}{ASNS,CPS1,GOT1}
\E{CPS1}{ASRGL1,ASNS,GOT1}
\E{DDC}{DBH,TH,TPH1,TPH2,GOT1,MAOA,GABBR1,ENPP1}
\E{TH}{TPH1,TPH2,SPR,QDPR,PCBD1,TYR,DBH,PNP}
\E{GOT1}{MIF,HPD,TYR,TPO,SIRT4,NAMPT}
\E{TYR}{OCA2,TPO}
\E{OCA2}{MC1R}
\E{MIF}{HPD}
\E{PNP}{ADA,XDH,HPRT1,APRT,ENPP1,NT5E,ADK}
\E{ADSL}{APRT,ATIC,ADK,HPRT1}
\E{APRT}{HPRT1,ADK}
\E{ENPP1}{NT5E,ADK}
\E{NT5E}{ADA,AMPD3,MAT1A}
\E{ATIC}{DHFR,TYMS,AMPD3,IMPDH2}
\E{DHFR}{TYMS,MTR,SHMT1,QDPR,CD34,AHCY,DGUOK}
\E{TYMS}{DUT,TPMT,MTHFR}
\E{MTR}{MTHFR,BHMT,MTRR,SHMT1,MMACHC,AHCY,CBS}
\E{MTHFR}{CBS,MTRR}
\E{CBS}{MTRR,MMACHC}
\E{MMACHC}{MTRR,PSAT1}
\E{PSAT1}{PHGDH}
\E{BHMT}{LOC,AHCY}
\E{SHMT1}{GLDC,AGXT}
\E{GLDC}{DLD,AGXT}
\E{AGXT}{DLD,ALAS1}
\E{DLD}{ALAS1,DLST,OGDH,IVD,CD34,RXRA}
\E{ALAS1}{DLST,SUCLG1,UROS,UROD,HMBS}
\E{OGDH}{DLST,SUCLG1}
\E{DLST}{SUCLG1,ACO2}
\E{SUCLG1}{SDHD,SDHC,SDHB}
\E{SDHD}{SDHB,SDHC}
\E{SDHC}{SDHB}
\E{ACO2}{SDHB,ACO1,TPI1,SDHD}
\E{UROS}{HMBS,UROD}
\E{UROD}{HMBS}
\E{TPI1}{GPI,TKT}
\E{GPI}{TKT,FBP1,PGD}
\E{TKT}{PGD,PRPS1}
\E{IL5}{IL13,CSF2}
\E{CSF2}{IL13}
\E{PCBD1}{QDPR,IL13}
\E{SPR}{QDPR,TPH1}
\E{TPH1}{TPH2}
\E{PDE10A}{PDE3A,PDE4D,APRT}
\E{PDE3A}{PDE4B,PDE3B}
\E{PDE4D}{PDE4B,PDE3B}
\E{AMPD3}{PDE3B,IMPDH2}
\E{IMPDH2}{HPRT1}
\E{MAT1A}{AHCY,PNP}
\E{DGUOK}{ADA}
\E{CTNNB1}{HIF1A,JUN,FOS,LEF1,TCF3,CDH5,CDH3,CTNNBIP1,CREB1,KAT2A,ESR1,EGFR,GSK3B,KLF4,SMAD7}
\E{FOS}{JUN,TERT,CREB1,EGR1,ESR1,NFKB1}
\E{JUN}{ESR1,HIF1A,PPARA,NCOA1,IFNG,NFKB1,KAT2A}
\E{TERT}{STAT5B,SP1}
\E{STAT5B}{TNFSF11,JAK3,EGFR}
\E{HIF1A}{EGLN1,EGLN3,HIF1AN,PPARA,CREB1,TCF3,ESR1}
\E{EGLN1}{HIF1AN,EGLN3}
\E{NR0B1}{NEDD4L,EGLN1}
\E{SMAD7}{RAPGEF2,SP1}
\E{CLDN5}{CDH5}
\E{HIF1AN}{TAL1}
\E{PPARA}{NCOA1,NCOR1,RXRA,PPARG,MED1}
\E{NCOA1}{NCOR1,ESR1,MED1,RXRA}
\E{NCOR1}{TRIB1,THRA,THRB,RARA,RARB,VDR,PPARG,KAT2B,ESR2,MED1,RXRA,PPARD}
\E{MED1}{ESR2,SIRT1,RXRA,VDR}
\E{ESR1}{AR,PGR,ESR2,GSK3B,NFKB1,HDAC2,HDAC16,CREB1,SOX9,KAT2A,SIRT1,TRIB1}
\E{PPARG}{RXRA,KAT2B,PPARD}
\E{RXRA}{PPARD,NR1H3,NR1H4,FABP6,RARA,RARB,VDR,THRB}
\E{MYOD1}{PAX7,LPL,ADIPOQ,PRDM16}
\E{PAX7}{MYF5,MYOG}
\E{MYOG}{APOA1}
\E{APOA1}{ABCA1,NOTCH1,ADAM17,CETP,ABCG1,LPL}
\E{ADAM17}{CETP}
\E{CETP}{NOTCH2}
\E{NOTCH1}{SNW1,FURIN}
\E{LPL}{ABCA1,PNPLA2,PCSK6,MGLL,PRDM16,ADIPOQ}
\E{FURIN}{PDGFA,PDGFB,GAS6,F10,F2,PROS1,F9}
\E{PDGFA}{PDGFB}
\E{MGLL}{PNPLA2}
\E{GAS6}{PROC}
\E{PROC}{F2R,F2}
\E{F2R}{TFPI}
\E{TFPI}{F10,F7,F2}
\E{F10}{F2,F9,F3,PROS1}
\E{F2}{F3,F9,THBD,APOH,EDN1}
\E{F7}{F3}
\E{F9}{F3,FGA,HGFAC}
\E{FGA}{PLG}
\E{PLG}{SERPINF2}
\E{SERPINF2}{PLAT}
\E{EDN1}{ECE1,EDNRA,AGT}
\E{EDNRA}{EDN2,ENSb}
\E{AGT}{AGTR2,ACE,ACE2,AGTR1,REN}
\E{ACE}{REN,ACE2}
\E{AGTR1}{REN}
\E{FABP6}{FABP2,PPARD}
\E{OPRM1}{WLS}
\E{WLS}{WNT5A}
\E{WNT5A}{WNT4,WNT11}
\E{WNT4}{WNT11}
\E{CRHR1}{CRH}
\E{CRH}{CRHR2,CRHBP}
\E{SCN5A}{KCNH2}
\E{KCNH2}{KCNQ1}
\E{KCNQ1}{KCNE2}
\E{RYR2}{CACNA1C}
\E{CACNA1C}{CACNB2}
\E{CACNB2}{CACNA1S}
\E{CACNA1S}{CACNA1D}
\E{GPR55}{TRPV1}
\E{TRPV1}{TRPM8,TRPA1}
\E{TRPM8}{TRPA1}
\E{TUBA3E}{TUBB2A,TUBB2B,TUBAL3}
\E{TUBAL3}{TUBB2A,TUBB2B,TUBA1C,TUBB1}
\E{TUBB2A}{TUBB2B,TUBA4A}
\E{TUBB2B}{TUBA1C,TUBA4A,TUBB1}
\E{TUBA1C}{TUBB1}
\E{TUBB1}{TUBA4A}
\E{GAL3ST1}{GALC}
\E{GALC}{UGCG,CERS2}
\E{UGCG}{CERS2}
\E{TLR4}{IL1B,IFNG,NFKB1,LGALS3,S100A9}
\E{LGALS3}{ASL2}
\E{HDAC16}{HDAC2,NCOR1,SIRT1}
\E{HDAC2}{NCOR1,SIRT1}
\E{GSK3B}{NFKB1}
\E{NFKB1}{IL1B,IL10,SIRT1,HDAC2}
\E{IFNG}{IL10,IL1B}
\E{IL1B}{IL10,IL17A}
\E{IL10}{IL17A,CAMK2G}
\E{HOPX}{IL18R1,ASRGL1}
\E{GPER}{ESR1}
\E{SOX9}{CTNNB1}
\E{PLCG1}{EGFR}
\E{CAV1}{CAV2,EGFR,ESR1}
\E{EGFR}{AREGB,ESR1,PGR}
\E{AR}{PGR,NCOA1}
\E{HSP90AB1}{AKT1,ESR1}
\E{PRKCB}{MAPK1}
\E{MAP2K1}{MAPK1}
\E{KHDRBS1}{SRC}
\E{STUB1}{HSP90AB1}
\E{UTS2}{UTS2R}
\E{TFAP2C}{WWOX}
\E{SC5D}{SIGMAR1}
\E{RPL7A}{TPT1}
\E{RAB3IL1}{RAB8B}
\E{CKB}{GAMT}
\E{CHRNB2}{GFER}
\E{CHAT}{CHKA}
\E{CCL5}{CCR7}
\E{CACNA2D2}{CACNB4}
\E{ATP1A1}{RS1}
\E{TAC1}{TACR2}
\E{MC4R}{GNAS}
\E{GNAS}{ADCY6}
\E{PDE5A}{NPR2}
\E{NPR2}{NPPC}
\E{PLOD1}{COLGALT1}
\E{COLGALT1}{PLOD2}
\E{AVPR2}{AVP}
\E{AVP}{AVPR1A}
\E{VDAC1}{SLC25A4}
\E{SLC25A4}{VDAC3}
\E{NRXN1}{NLGN1}
\E{NLGN1}{NRXN3}
\E{PDE6G}{GNAT1}
\E{GNAT1}{RHO}
\E{NPPB}{NPR3}
\E{MGST1}{MGST2}
\E{HTR1A}{SLC6A4}
\E{HMGCR}{SREBF2}
\E{EEA1}{LAMP1}
\E{PPP3CA}{PPP3R1}
\E{OXT}{OXTR}
\E{ABCC8}{KCNJ11}
\E{AARS2}{IARS2}
\E{DAGLA}{NAPEPLD}
\E{COX4I1}{COX5A}
\E{COL1A1}{SPARC}
\E{ANG}{SPI1}
\E{ADAMTS20}{ADAMTS9}
\end{pgfonlayer}
\end{tikzpicture}
\end{document}
